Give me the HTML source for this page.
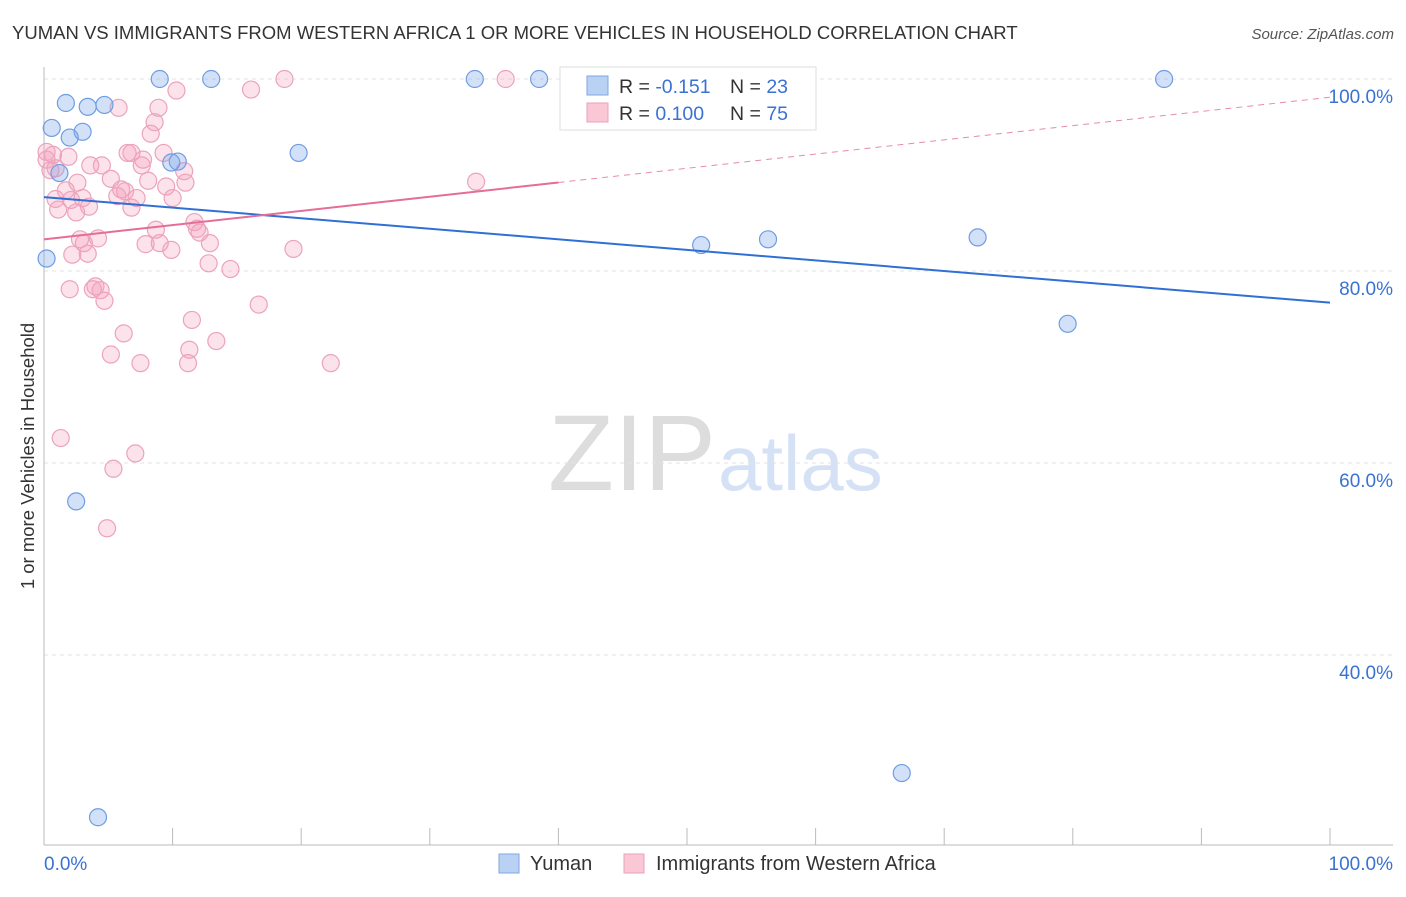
<!DOCTYPE html>
<html><head><meta charset="utf-8">
<style>
body{margin:0;background:#fff;font-family:"Liberation Sans",sans-serif;}
svg text{font-family:"Liberation Sans",sans-serif;}
</style></head>
<body>
<svg id="chart" width="1406" height="892" xmlns="http://www.w3.org/2000/svg">
<text x="12" y="39" font-size="18.5" fill="#333">YUMAN VS IMMIGRANTS FROM WESTERN AFRICA 1 OR MORE VEHICLES IN HOUSEHOLD CORRELATION CHART</text>
<text x="1394" y="39" font-size="15" fill="#555" text-anchor="end" font-style="italic">Source: ZipAtlas.com</text>
<text x="716" y="490" font-size="108" text-anchor="end" fill="#ddd" font-family="Liberation Serif">ZIP</text>
<text x="718" y="490" font-size="78" fill="#d5e2f5">atlas</text>
<text transform="translate(34,456) rotate(-90)" font-size="18.5" fill="#333" text-anchor="middle">1 or more Vehicles in Household</text>
<g id="grid"></g><g id="axes"></g><g id="marks"></g>
<g>
<rect x="560" y="67" width="256" height="63" fill="#fff" stroke="#ddd"/>
<rect x="587" y="76" width="21" height="19" fill="#b9d1f3" stroke="#7fa6e3"/>
<rect x="587" y="103" width="21" height="19" fill="#f9c7d6" stroke="#eba0b8"/>
<text x="619" y="93" font-size="19.5" fill="#333">R = <tspan fill="#3a72d2">-0.151</tspan></text>
<text x="730" y="93" font-size="19.5" fill="#333">N = <tspan fill="#3a72d2">23</tspan></text>
<text x="619" y="120" font-size="19.5" fill="#333">R = <tspan fill="#3a72d2"> 0.100</tspan></text>
<text x="730" y="120" font-size="19.5" fill="#333">N = <tspan fill="#3a72d2">75</tspan></text>
</g>
<g>
<rect x="499" y="854" width="20" height="19" fill="#b9d1f3" stroke="#7fa6e3"/>
<text x="530" y="870" font-size="20" fill="#333">Yuman</text>
<rect x="624" y="854" width="20" height="19" fill="#f9c7d6" stroke="#eba0b8"/>
<text x="656" y="870" font-size="20" fill="#333">Immigrants from Western Africa</text>
</g>
</svg>
<script>
const yTicks=[40,60,80,100];
const yTickLabels=["40.0%","60.0%","80.0%","100.0%"];
const xTickVals=[0,10,20,30,40,50,60,70,80,90,100];
const blueX=[9.0,13.0,33.5,38.5,87.1,1.7,3.4,4.7,0.6,3.0,2.0,19.8,10.4,9.9,1.2,0.2,51.1,56.3,72.6,79.6,2.5,66.7,4.2];
const blueY=[100,100,100,100,100,97.5,97.1,97.3,94.9,94.5,93.9,92.3,91.4,91.3,90.2,81.3,82.7,83.3,83.5,74.5,56.0,27.7,23.1];
const pinkX=[18.7,35.9,16.1,10.3,5.8,8.9,8.6,8.3,0.7,1.9,0.2,6.5,6.8,9.3,7.7,3.6,4.5,7.6,10.9,0.9,5.2,2.6,8.1,11.0,33.6,1.7,6.0,6.3,9.5,5.7,10.0,3.0,0.9,7.2,2.1,3.5,1.1,6.8,2.5,11.7,11.9,8.7,12.1,2.8,4.2,12.9,3.1,9.0,7.9,9.9,2.2,3.4,19.4,12.8,14.5,4.0,2.0,3.8,4.4,4.7,16.7,11.5,6.2,13.4,11.3,5.2,7.5,11.2,22.3,1.3,7.1,5.4,4.9,0.2,0.5];
const pinkY=[100,100,98.9,98.8,97.0,97.0,95.5,94.3,92.1,91.9,91.6,92.3,92.3,92.3,91.6,91.0,91.0,91.0,90.4,90.7,89.6,89.2,89.4,89.2,89.3,88.4,88.5,88.3,88.8,87.8,87.6,87.6,87.5,87.6,87.4,86.7,86.4,86.6,86.1,85.1,84.4,84.3,84.0,83.3,83.4,82.9,82.9,82.9,82.8,82.2,81.7,81.8,82.3,80.8,80.2,78.4,78.1,78.1,78.0,76.9,76.5,74.9,73.5,72.7,71.8,71.3,70.4,70.4,70.4,62.6,61.0,59.4,53.2,92.4,90.5];
const blueTrend=[87.7,76.7];
const pinkTrend=[83.3,98.1];
const NS="http://www.w3.org/2000/svg";
const L=44,R=1330,Y0=1039,PX=9.6;
const xs=v=>L+(R-L)*v/100, ys=v=>Y0-v*PX;
function mk(t,a,p){const e=document.createElementNS(NS,t);for(const k in a)e.setAttribute(k,a[k]);document.getElementById(p).appendChild(e);return e;}
yTicks.forEach((t,i)=>{
 const g=mk('line',{x1:L,x2:1393,y1:ys(t),y2:ys(t),stroke:'#e3e3e3','stroke-dasharray':'4,4'},'grid');
 
 
 const tx=mk('text',{x:1393,y:ys(t)+24,'font-size':19,fill:'#3a72d2','text-anchor':'end'},'axes');
 tx.textContent=yTickLabels[i];
 
 
});
const ax=mk('line',{x1:L,x2:L,y1:67,y2:845,stroke:'#bbb'},'axes');


const bx=mk('line',{x1:L,x2:1393,y1:845,y2:845,stroke:'#bbb'},'axes');


xTickVals.forEach(v=>{const t=mk('line',{x1:xs(v),x2:xs(v),y1:828,y2:845,stroke:'#bbb'},'axes');
 
 });
const x0=mk('text',{x:44,y:870,'font-size':19,fill:'#3a72d2'},'axes');x0.textContent='0.0%';


const x1=mk('text',{x:1393,y:870,'font-size':19,fill:'#3a72d2','text-anchor':'end'},'axes');x1.textContent='100.0%';


pinkX.forEach((x,i)=>{const c=mk('circle',{cx:xs(x),cy:ys(pinkY[i]),r:8.5,fill:'rgba(244,160,188,0.3)',stroke:'#eca3bb','stroke-width':1.2},'marks');
 
 });
blueX.forEach((x,i)=>{const c=mk('circle',{cx:xs(x),cy:ys(blueY[i]),r:8.5,fill:'rgba(130,170,235,0.35)',stroke:'#6f9de2','stroke-width':1.2},'marks');
 
 });
const bl=mk('line',{x1:xs(0),y1:ys(blueTrend[0]),x2:xs(100),y2:ys(blueTrend[1]),stroke:'#2f6fd6','stroke-width':2},'marks');


const pm=pinkTrend[0]+(pinkTrend[1]-pinkTrend[0])*0.4;
const pl=mk('line',{x1:xs(0),y1:ys(pinkTrend[0]),x2:xs(40),y2:ys(pm),stroke:'#e56d97','stroke-width':2},'marks');


const pd=mk('line',{x1:xs(40),y1:ys(pm),x2:xs(100),y2:ys(pinkTrend[1]),stroke:'#e88aab','stroke-width':1,'stroke-dasharray':'6,5'},'marks');


</script>
</body></html>
